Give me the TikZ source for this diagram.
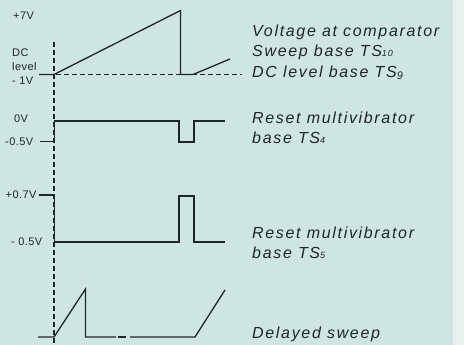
\documentclass[tikz,border=0pt]{standalone}
\usepackage{fontspec}
\setsansfont{Liberation Sans}
\newfontfamily\wavecapfont[LetterSpace=10.5]{Liberation Sans}
\newfontfamily\wavelblfont[LetterSpace=4]{Liberation Sans}
\usepackage{tikz}
\usetikzlibrary{positioning}
\definecolor{wavepaper}{HTML}{CEE5E2}
\definecolor{wavemargin}{HTML}{E9F1EF}
\definecolor{waveink}{HTML}{1F2626}
\newcommand{\wavecap}[3]{%
  \node[anchor=base west,inner sep=0pt,text=waveink,
        font=\wavecapfont\itshape\fontsize{16}{16}\selectfont] (#1) at (252,#2) {#3};
}
\newcommand{\wavelbl}[4]{%
  \node[anchor=west,inner sep=0pt,text=waveink,
        font=\wavelblfont\fontsize{11}{11}\selectfont] (#1) at (#2,#3) {#4};
}
\newcommand{\wavesub}[1]{{\fontsize{9}{9}\selectfont #1}}

\begin{document}
\begin{tikzpicture}[x=1pt,y=-1pt,
    trace/.style={waveink,line width=1.3pt,line join=miter},
    guide/.style={waveink,line width=1.1pt,dash pattern=on 5pt off 3pt}]
  \useasboundingbox (0,0) rectangle (464,345);
  \fill[wavepaper] (0,0) rectangle (453,345);
  \fill[wavemargin] (453,0) rectangle (464,345);
  % time marker and DC level
  \draw[guide] (54,42)--(54,345);
  \draw[guide] (56,74.5)--(242,74.5);
  % comparator voltage
  \draw[trace] (39,74.5)--(54,74.5)--(180.5,10.5)--(180.5,74.5)--(193,74.5)--(230,59);
  % reset multivibrator TS4
  \draw[trace] (40,141.5)--(54.5,141.5)--(54.5,121)--(179,121)--(179,142)--(194,142)--(194,121)--(225,121);
  % reset multivibrator TS5
  \draw[trace] (39,195)--(54.5,195)--(54.5,242)--(179,242)--(179,196)--(194,196)--(194,242)--(225,242);
  % delayed sweep
  \draw[trace] (38,337)--(54,337)--(85.5,289)--(85.5,337)--(116,337);
  \draw[trace] (118,337)--(126,337);
  \draw[trace] (130,337)--(195,337)--(225,290);
  % left voltage labels
  \wavelbl{lblseven}{13}{16}{+7V}
  \wavelbl{lbldc}{12}{53}{DC}
  \wavelbl{lbllevel}{12}{67}{level}
  \wavelbl{lblminusone}{12}{80.5}{- 1V}
  \wavelbl{lblzero}{14}{119}{0V}
  \wavelbl{lblhalfa}{5}{141.5}{-0.5V}
  \wavelbl{lblpointseven}{5.5}{195}{+0.7V}
  \wavelbl{lblhalfb}{11}{242}{- 0.5V}
  % right captions
  \wavecap{capvolt}{36.5}{Voltage at comparator}
  \wavecap{capsweep}{57}{Sweep base TS\wavesub{10}}
  \wavecap{capdc}{77.5}{DC level base TS\raisebox{-2.5pt}{\fontsize{11}{11}\selectfont 9}}
  \wavecap{capresa}{123.5}{Reset multivibrator}
  \wavecap{capbasea}{143.5}{base TS\wavesub{4}}
  \wavecap{capresb}{238.5}{Reset multivibrator}
  \wavecap{capbaseb}{258.5}{base TS\wavesub{5}}
  \wavecap{capdelay}{338.5}{Delayed sweep}
\end{tikzpicture}
\end{document}
